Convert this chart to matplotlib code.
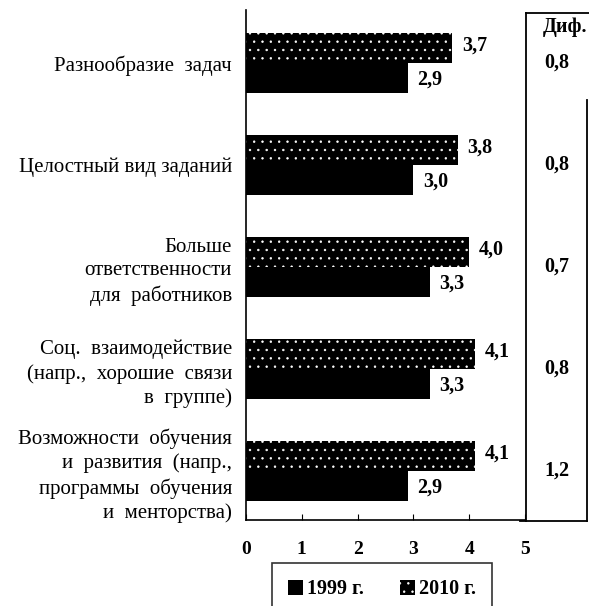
import matplotlib

matplotlib.use("Agg")
import matplotlib.pyplot as plt
from matplotlib.lines import Line2D
from matplotlib.patches import Patch
from matplotlib.transforms import blended_transform_factory

categories = [
    "Разнообразие  задач",
    "Целостный вид заданий",
    "Больше\nответственности\nдля  работников",
    "Соц.  взаимодействие\n(напр.,  хорошие  связи\nв  группе)",
    "Возможности  обучения\nи  развития  (напр.,\nпрограммы  обучения\nи  менторства)",
]
values_2010 = [3.7, 3.8, 4.0, 4.1, 4.1]
values_1999 = [2.9, 3.0, 3.3, 3.3, 2.9]
diffs = [0.8, 0.8, 0.7, 0.8, 1.2]
x_ticks = [0, 1, 2, 3, 4, 5]

W, H = 589, 606
plt.rcParams["font.family"] = ["Liberation Serif", "DejaVu Serif"]
plt.rcParams["hatch.linewidth"] = 0.5


def px(x, y):
    return x / W, 1 - y / H


def fmt(v):
    return f"{v:.1f}".replace(".", ",")


fig = plt.figure(figsize=(W / 100, H / 100), dpi=100)
ax = fig.add_axes([246 / W, (H - 520) / H, (525 - 246) / W, 510 / H])

y = list(range(len(categories)))
bh = 0.29
y_top = [i - bh / 2 for i in y]
y_bot = [i + bh / 2 for i in y]

ax.barh(y_top, values_2010, height=bh, color="black", edgecolor="white",
        linewidth=0, hatch="..")
ax.barh(y_bot, values_1999, height=bh, color="black", linewidth=0)

for yy, v in zip(y_top, values_2010):
    ax.text(v + 0.17, yy - 0.03, fmt(v), ha="left", va="center",
            fontsize=14.5, fontweight="bold")
for yy, v in zip(y_bot, values_1999):
    ax.text(v + 0.17, yy + 0.02, fmt(v), ha="left", va="center",
            fontsize=14.5, fontweight="bold")

ax.set_xlim(0, 5)
ax.set_ylim(4.48, -0.52)
ax.set_xticks(x_ticks)
ax.set_xticklabels([str(t) for t in x_ticks], fontsize=14, fontweight="bold")
ax.tick_params(axis="x", direction="in", length=4, pad=15)
ax.set_yticks(y)
ax.set_yticklabels(categories, fontsize=15, linespacing=1.3, ha="right")
ax.tick_params(axis="y", length=0, pad=10)
for side in ["top", "right"]:
    ax.spines[side].set_visible(False)
ax.spines["left"].set_linewidth(1.2)
ax.spines["bottom"].set_linewidth(1.2)

# difference column box
box_lines = [
    ((526, 526), (13, 521)),
    ((526, 589), (13, 13)),
    ((587, 587), (100, 521)),
    ((520, 587), (521, 521)),
]
for xs, ys in box_lines:
    p0 = px(xs[0], ys[0])
    p1 = px(xs[1], ys[1])
    fig.add_artist(Line2D([p0[0], p1[0]], [p0[1], p1[1]],
                          transform=fig.transFigure, color="black", lw=1.3))

hx, hy = px(565, 27)
fig.text(hx, hy, "Диф.", ha="center", va="center", fontsize=14.5, fontweight="bold")
trans = blended_transform_factory(fig.transFigure, ax.transData)
for yy, d in zip(y, diffs):
    ax.text(557 / W, yy, fmt(d), transform=trans, ha="center", va="center",
            fontsize=14.5, fontweight="bold")

handles = [
    Patch(facecolor="black", linewidth=0),
    Patch(facecolor="black", edgecolor="white", linewidth=0, hatch=".."),
]
leg = fig.legend(handles, ["1999 г.", "2010 г."], ncol=2, loc="lower center",
                 bbox_to_anchor=(382 / W, -0.032), frameon=True, fancybox=False,
                 edgecolor="black", handlelength=0.75, handleheight=0.75,
                 handletextpad=0.2, columnspacing=1.8, borderpad=0.8,
                 prop={"size": 14.5, "weight": "bold"})
leg.get_frame().set_linewidth(1.2)

fig.savefig("out.png", dpi=100)
